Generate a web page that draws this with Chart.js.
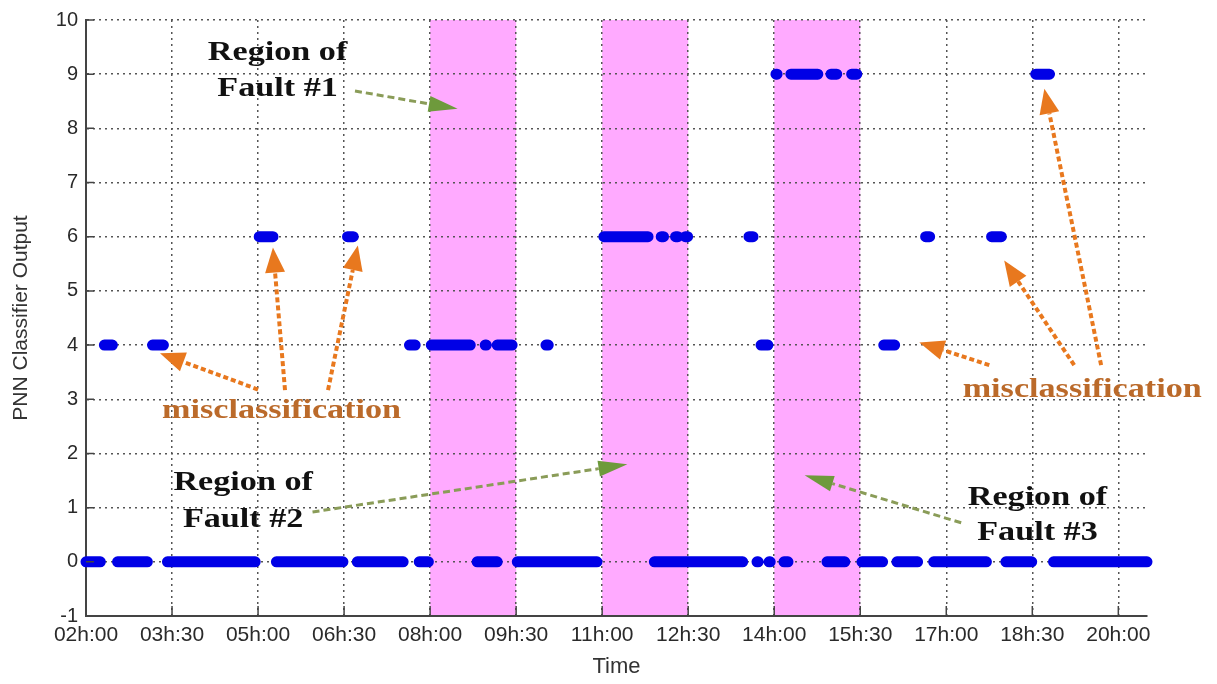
<!DOCTYPE html>
<html>
<head>
<meta charset="utf-8">
<script src="https://cdn.jsdelivr.net/npm/chart.js"></script>
<style>
  html, body { margin: 0; padding: 0; background: #fff; }
  .wrap { width: 1217px; height: 684px; position: relative; }
</style>
</head>
<body>
<div class="wrap"><canvas id="pnnChart"></canvas></div>
<script>
// x ticks (hours) and their labels
const tickHours = [2, 3.5, 5, 6.5, 8, 9.5, 11, 12.5, 14, 15.5, 17, 18.5, 20];
const tickLabels = ["02h:00", "03h:30", "05h:00", "06h:30", "08h:00", "09h:30", "11h:00",
  "12h:30", "14h:00", "15h:30", "17h:00", "18h:30", "20h:00"];

// fault regions (start / end hour)
const faultStart = [8, 11, 14];
const faultEnd = [9.5, 12.5, 15.5];

// classifier output runs [from, to] (hours) for each class
const runsClass0 = [[2.0, 2.25], [2.55, 3.07], [3.42, 4.95], [5.32, 6.48], [6.73, 7.53], [7.81, 7.97],
  [8.82, 9.17], [9.52, 10.91], [11.91, 13.45], [13.70, 13.72], [13.91, 13.93], [14.17, 14.24],
  [14.92, 15.23], [15.53, 15.89], [16.14, 16.50], [16.78, 17.70], [18.04, 18.49], [18.87, 20.5]];
const runsClass4 = [[2.32, 2.46], [3.16, 3.35], [7.64, 7.74], [8.02, 8.70], [8.96, 8.98], [9.17, 9.43],
  [10.02, 10.06], [13.77, 13.89], [15.91, 16.10]];
const runsClass6 = [[5.02, 5.26], [6.56, 6.66], [11.03, 11.80], [12.03, 12.07], [12.28, 12.32],
  [12.45, 12.49], [13.56, 13.63], [16.64, 16.71], [17.79, 17.96]];
const runsClass9 = [[14.03, 14.05], [14.29, 14.76], [14.99, 15.09], [15.35, 15.44], [18.56, 18.80]];

function runsToPoints(runs, level) {
  const pts = [];
  runs.forEach(r => {
    pts.push({x: r[0], y: level}, {x: r[1], y: level}, {x: r[1], y: null});
  });
  return pts;
}

function lineSet(runs, level) {
  return {
    data: runsToPoints(runs, level),
    borderColor: "#0000e6",
    borderWidth: 11,
    borderCapStyle: "round",
    borderJoinStyle: "round",
    pointRadius: 0,
    spanGaps: false,
    clip: 8
  };
}

// annotations in data coordinates
const textNotes = [
  {t: "Region of", x: 5.34, y: 9.39, c: "#111"},
  {t: "Fault #1", x: 5.34, y: 8.73, c: "#111"},
  {t: "Region of", x: 4.74, y: 1.45, c: "#111"},
  {t: "Fault #2", x: 4.74, y: 0.78, c: "#111"},
  {t: "Region of", x: 18.59, y: 1.18, c: "#111"},
  {t: "Fault #3", x: 18.59, y: 0.53, c: "#111"},
  {t: "misclassification", x: 5.41, y: 2.78, c: "#bb6a2a"},
  {t: "misclassification", x: 19.37, y: 3.17, c: "#bb6a2a"}
];
const greenArrows = [
  [6.69, 8.69, 8.48, 8.36],
  [5.95, 0.92, 11.44, 1.80],
  [17.26, 0.72, 14.53, 1.60]
];
const orangeArrows = [
  [5.0, 3.18, 3.29, 3.85],
  [5.47, 3.17, 5.26, 5.80],
  [6.22, 3.17, 6.74, 5.84],
  [17.75, 3.63, 16.53, 4.05],
  [19.23, 3.63, 18.01, 5.56],
  [19.70, 3.63, 18.71, 8.73]
];

function drawArrow(ctx, x0, y0, x1, y1, o) {
  const a = Math.atan2(y1 - y0, x1 - x0);
  const bx = x1 - o.len * Math.cos(a), by = y1 - o.len * Math.sin(a);
  ctx.save();
  ctx.strokeStyle = o.line;
  ctx.lineWidth = o.width;
  ctx.setLineDash(o.dash);
  ctx.beginPath();
  ctx.moveTo(x0, y0);
  ctx.lineTo(bx, by);
  ctx.stroke();
  ctx.setLineDash([]);
  ctx.fillStyle = o.head;
  ctx.beginPath();
  ctx.moveTo(x1, y1);
  ctx.lineTo(bx + o.half * Math.sin(a), by - o.half * Math.cos(a));
  ctx.lineTo(bx - o.half * Math.sin(a), by + o.half * Math.cos(a));
  ctx.closePath();
  ctx.fill();
  ctx.restore();
}

const bandsPlugin = {
  id: "bands",
  beforeDraw(chart) {
    const {ctx, chartArea, scales} = chart;
    ctx.save();
    ctx.fillStyle = "rgb(255,170,255)";
    faultStart.forEach((s, i) => {
      const x0 = scales.x.getPixelForValue(s);
      const x1 = scales.x.getPixelForValue(faultEnd[i]);
      ctx.fillRect(x0, chartArea.top, x1 - x0, chartArea.bottom - chartArea.top);
    });
    ctx.restore();
  }
};

const notesPlugin = {
  id: "notes",
  afterDatasetsDraw(chart) {
    const {ctx, chartArea, scales} = chart;
    const px = v => scales.x.getPixelForValue(v);
    const py = v => scales.y.getPixelForValue(v);

    // inward tick marks
    ctx.save();
    ctx.strokeStyle = "#444";
    ctx.lineWidth = 1.5;
    ctx.beginPath();
    tickHours.forEach(h => {
      ctx.moveTo(px(h), chartArea.bottom);
      ctx.lineTo(px(h), chartArea.bottom - 10);
    });
    for (let v = -1; v <= 10; v++) {
      ctx.moveTo(chartArea.left, py(v));
      ctx.lineTo(chartArea.left + 8, py(v));
    }
    ctx.stroke();
    ctx.restore();

    greenArrows.forEach(a => drawArrow(ctx, px(a[0]), py(a[1]), px(a[2]), py(a[3]),
      {line: "#8a9c58", head: "#6e9a3c", width: 3, dash: [7, 4], len: 29, half: 8}));
    orangeArrows.forEach(a => drawArrow(ctx, px(a[0]), py(a[1]), px(a[2]), py(a[3]),
      {line: "#e8781e", head: "#e8781e", width: 4, dash: [5, 3], len: 25, half: 10}));

    ctx.save();
    ctx.font = 'bold 28px "Liberation Serif"';
    ctx.textAlign = "center";
    ctx.textBaseline = "middle";
    textNotes.forEach(n => {
      ctx.save();
      ctx.translate(px(n.x), py(n.y));
      ctx.scale(1.22, 1);
      ctx.fillStyle = n.c;
      ctx.fillText(n.t, 0, 0);
      ctx.restore();
    });
    ctx.restore();
  }
};

const gridOpts = {color: "#555", lineWidth: 1.5, drawTicks: false};

new Chart(document.getElementById("pnnChart").getContext("2d"), {
  type: "line",
  data: {
    datasets: [
      lineSet(runsClass0, 0),
      lineSet(runsClass4, 4),
      lineSet(runsClass6, 6),
      lineSet(runsClass9, 9)
    ]
  },
  options: {
    responsive: true,
    maintainAspectRatio: false,
    animation: false,
    layout: {padding: {top: 19, right: 70, left: 0, bottom: 0}},
    plugins: {legend: {display: false}, tooltip: {enabled: false}},
    scales: {
      x: {
        type: "linear",
        min: 2,
        max: 20.5,
        afterBuildTicks: s => { s.ticks = tickHours.map(v => ({value: v})); },
        afterFit: s => { s.height = 68; },
        ticks: {
          autoSkip: false, maxRotation: 0, padding: 7, color: "#2a2a2a",
          font: {family: "Liberation Sans", size: 21},
          callback: v => { const i = tickHours.indexOf(v); return i >= 0 ? tickLabels[i] : ""; }
        },
        grid: gridOpts,
        border: {display: true, color: "#444", width: 2, dash: [2, 4]},
        title: {display: true, text: "Time", color: "#333", padding: {top: 3},
          font: {family: "Liberation Sans", size: 22}}
      },
      y: {
        min: -1,
        max: 10,
        afterFit: s => { s.width = 86; },
        ticks: {stepSize: 1, padding: 8, color: "#2a2a2a", font: {family: "Liberation Sans", size: 20}},
        grid: gridOpts,
        border: {display: true, color: "#444", width: 2, dash: [2, 4]},
        title: {display: true, text: "PNN Classifier Output", color: "#333", padding: {top: 9, bottom: 0},
          font: {family: "Liberation Sans", size: 21}}
      }
    }
  },
  plugins: [bandsPlugin, notesPlugin]
});
</script>
</body>
</html>
